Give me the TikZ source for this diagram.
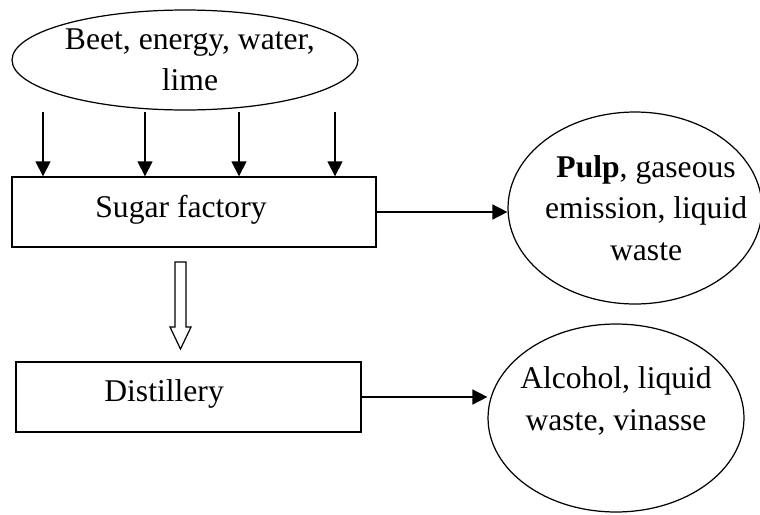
\documentclass[tikz,border=0pt]{standalone}
\usepackage{fontspec}
\setmainfont{Liberation Serif}
\usetikzlibrary{shapes.geometric,arrows.meta}

\tikzset{
  flow/.style={line width=0.9pt,-{Triangle[length=8.5pt,width=8.5pt]}},
  unit/.style={draw,line width=0.8pt,rectangle,inner sep=0pt},
  stream/.style={draw,line width=0.7pt,ellipse,inner sep=0pt},
  hollow/.style={draw,line width=0.7pt,line join=miter},
}

\begin{document}
\begin{tikzpicture}[x=0.02cm,y=-0.02cm,font=\fontsize{18}{23.6}\selectfont]
    \useasboundingbox (0,0) rectangle (760,514);

    % Inputs and plants
    \node[stream,minimum width=6.92cm,minimum height=2cm,
      label={[align=center,xshift=2.8pt]center:{Beet, energy, water,\\lime}}] (inputs) at (185,60) {};
    \node[unit,minimum width=7.28cm,minimum height=1.4cm,
      label={[xshift=-7.4pt,yshift=1pt]center:Sugar factory}] (sugar) at (194,212) {};
    \node[unit,minimum width=6.9cm,minimum height=1.4cm,
      label={[xshift=-13.9pt,yshift=1.5pt]center:Distillery}] (distill) at (188.5,397) {};

    % Outputs
    \node[stream,minimum width=5.08cm,minimum height=3.84cm,
      label={[align=center,xshift=6.3pt]center:{\textbf{Pulp}, gaseous\\emission, liquid\\waste}}] (pulp) at (635,208) {};
    \node[stream,minimum width=5.12cm,minimum height=3.76cm,
      label={[align=center,yshift=9.7pt]center:{Alcohol, liquid\\waste, vinasse}}] (alcohol) at (616,418) {};

    \foreach \x [count=\i] in {43,145,239,335} {
      \coordinate (in\i) at (\x,112);
      \draw[flow] (in\i) -- (in\i |- sugar.north);
    }
    \draw[flow] (sugar.east) -- (sugar.east -| pulp.west);
    \draw[flow] (distill.east) -- (distill.east -| alcohol.west);

    % Hollow arrow to the distillery
    \coordinate (tail) at (180.5,262);
    \draw[hollow] (tail) ++(-5.5,0) -- ++(11,0) -- ++(0,65) -- ++(5,0)
      -- ++(-10.5,22) -- ++(-10.5,-22) -- ++(5,0) -- cycle;
\end{tikzpicture}
\end{document}
